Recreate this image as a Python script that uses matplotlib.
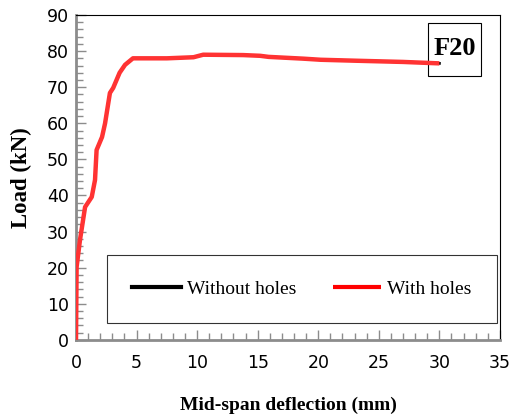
import matplotlib.pyplot as plt
from matplotlib.patches import Rectangle
from matplotlib.ticker import MultipleLocator

# load-deflection readings for specimen F20
deflection = [0.0, 0.05, 0.33, 0.75, 1.3, 1.57, 1.7, 2.15, 2.4, 2.8, 3.07, 3.6,
              4.05, 4.7, 7.5, 9.7, 10.5, 13.8, 15.2, 15.9, 18.8, 20.2, 23.5, 27.0, 30.0]
load = [0.0, 20.2, 27.7, 36.8, 39.6, 44.3, 52.6, 56.2, 60.0, 68.4, 69.8, 74.0,
        76.2, 78.0, 78.0, 78.3, 79.0, 78.9, 78.7, 78.4, 77.9, 77.6, 77.3, 77.0, 76.6]

# the curve without holes lies under the one with holes
deflection_no_holes = deflection
load_no_holes = load

serif = "Liberation Serif"

fig = plt.figure(figsize=(5.17, 4.17), dpi=100)
ax = fig.add_axes([0.147, 0.185, 0.820, 0.779])

ax.plot(deflection_no_holes, load_no_holes, color="black", lw=2.0, label="Without holes", zorder=2)
ax.plot(deflection, load, color="#ff3333", lw=3.2, label="With holes", solid_capstyle="butt", zorder=3)

ax.set_xlim(0, 35)
ax.set_ylim(0, 90)
ax.xaxis.set_major_locator(MultipleLocator(5))
ax.xaxis.set_minor_locator(MultipleLocator(1))
ax.yaxis.set_major_locator(MultipleLocator(10))
ax.yaxis.set_minor_locator(MultipleLocator(2))

for side in ("left", "bottom"):
    ax.spines[side].set_color("#8c8c8c")
    ax.spines[side].set_linewidth(2.0)
for side in ("top", "right"):
    ax.spines[side].set_color("black")
    ax.spines[side].set_linewidth(0.8)

ax.tick_params(which="both", direction="in", color="#8c8c8c", width=1.0, labelsize=12.5)
ax.tick_params(axis="x", pad=10)
ax.tick_params(axis="y", pad=5)
ax.tick_params(which="major", length=7)
ax.tick_params(which="minor", length=5)

ax.set_xlabel("Mid-span deflection (mm)", family=serif, fontweight="bold", fontsize=14, labelpad=18)
ax.set_ylabel("Load (kN)", family=serif, fontweight="bold", fontsize=16.5, labelpad=11)

# specimen tag in a square box, the curve runs over it
ax.add_patch(Rectangle((0.830, 0.812), 0.125, 0.163, transform=ax.transAxes,
                       fc="white", ec="black", lw=0.8, zorder=1))
ax.text(0.8925, 0.896, "F20", transform=ax.transAxes, ha="center", va="center",
        family=serif, fontweight="bold", fontsize=19, zorder=4)

leg = ax.legend(loc="lower left", bbox_to_anchor=(0.073, 0.052, 0.92, 0.203), mode="expand",
                ncol=2, frameon=True, fancybox=False, edgecolor="black", handlelength=2.5,
                handletextpad=0.3, borderaxespad=0, prop={"family": serif, "size": 14},
                borderpad=1.3)
leg.get_frame().set_linewidth(0.8)
leg.legend_handles[0].set_linewidth(3.0)
leg.legend_handles[1].set_color("red")
leg.legend_handles[1].set_linewidth(3.0)

fig.savefig("out.png", dpi=100)
